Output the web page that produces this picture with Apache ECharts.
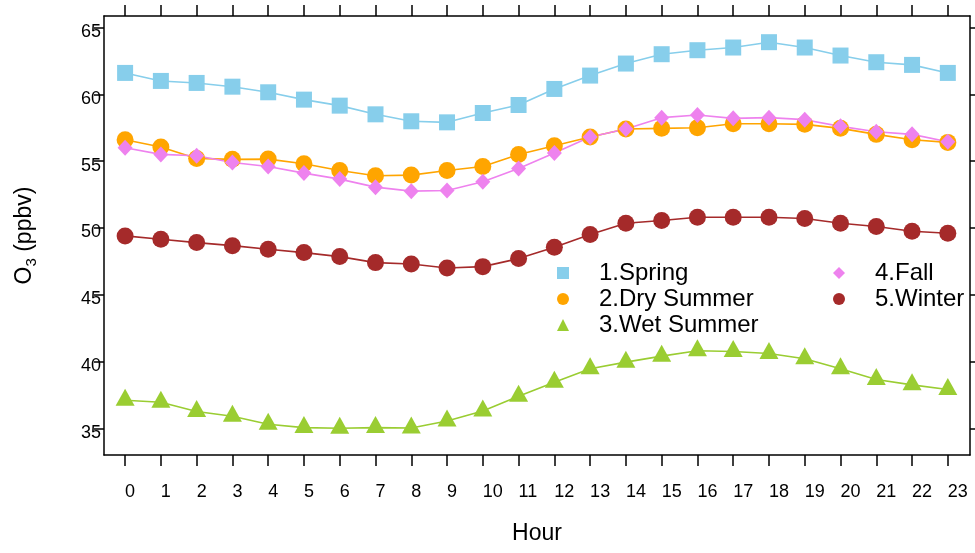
<!DOCTYPE html>
<html>
<head>
<meta charset="utf-8">
<script src="https://cdn.jsdelivr.net/npm/echarts@6/dist/echarts.min.js"></script>
<style>html,body{margin:0;padding:0;background:#fff;}#c{width:975px;height:553px;}</style>
</head>
<body>
<div id="c"></div>
<script>
var hours = [0,1,2,3,4,5,6,7,8,9,10,11,12,13,14,15,16,17,18,19,20,21,22,23];
var yTicks = [35,40,45,50,55,60,65];
var spring = [61.6,61.0,60.85,60.57,60.15,59.6,59.15,58.5,57.98,57.9,58.6,59.2,60.4,61.4,62.3,63.0,63.3,63.5,63.9,63.5,62.9,62.4,62.2,61.6];
var drySummer = [56.6,56.05,55.2,55.13,55.15,54.8,54.3,53.9,53.95,54.3,54.6,55.5,56.15,56.8,57.4,57.45,57.5,57.8,57.8,57.75,57.45,57.0,56.6,56.4];
var wetSummer = [37.1,36.95,36.25,35.9,35.3,35.05,35.0,35.05,35.02,35.55,36.3,37.4,38.45,39.45,39.95,40.4,40.8,40.75,40.6,40.2,39.45,38.65,38.25,37.9];
var fall = [56.0,55.5,55.4,54.9,54.6,54.1,53.65,53.05,52.75,52.8,53.45,54.45,55.6,56.8,57.4,58.25,58.45,58.2,58.25,58.1,57.6,57.2,57.0,56.45];
var winter = [49.4,49.15,48.9,48.67,48.4,48.15,47.85,47.4,47.3,47.0,47.1,47.7,48.55,49.5,50.35,50.55,50.8,50.8,50.8,50.7,50.35,50.1,49.75,49.6];
var names = ['1.Spring','2.Dry Summer','3.Wet Summer','4.Fall','5.Winter'];

function pairs(v){ return hours.map(function(h,i){ return [h, v[i]]; }); }

var chart = echarts.init(document.getElementById('c'), null, {renderer:'canvas'});
var FF = 'Liberation Sans, Arial, sans-serif';
var axisFont = {fontFamily:FF, fontSize:18, color:'#000'};
var lineStyleAxis = {color:'#000', width:1.5};

function mkSeries(name, data, color, symbol, size, extra){
  var s = {
    name: name, type:'line', data: pairs(data),
    symbol: symbol, symbolSize: size,
    showAllSymbol: true,
    lineStyle: {color: color, width: 1.6},
    itemStyle: {color: color},
    emphasis: {disabled: true},
    animation: false,
    z: 2
  };
  if (extra) for (var k in extra) s[k] = extra[k];
  return s;
}

var legendText = {fontFamily:FF, fontSize:24, color:'#000', padding:[0,0,0,25], lineHeight:24};

var option = {
  backgroundColor: '#fff',
  animation: false,
  grid: {left:104, right:5, top:16, bottom:98, containLabel:false},
  xAxis: [{
    type:'value', min:-0.59, max:23.62, position:'bottom',
    name:'Hour', nameLocation:'middle', nameGap:67,
    nameTextStyle:{fontFamily:FF, fontSize:23, color:'#000'},
    axisLine:{show:true, onZero:false, lineStyle:lineStyleAxis},
    axisTick:{show:true, length:11, lineStyle:lineStyleAxis, customValues: hours},
    axisLabel:Object.assign({margin:28, align:'left', customValues: hours}, axisFont),
    splitLine:{show:false}
  },{
    type:'value', min:-0.59, max:23.62, position:'top',
    axisLine:{show:true, onZero:false, lineStyle:lineStyleAxis},
    axisTick:{show:true, length:11, lineStyle:lineStyleAxis, customValues: hours},
    axisLabel:{show:false},
    splitLine:{show:false}
  }],
  yAxis: [{
    type:'value', min:33, max:65.86, position:'left',
    name:'{a|O}{s|3}{a| (ppbv)}', nameLocation:'middle', nameGap:64, nameRotate:90,
    nameTextStyle:{
      fontFamily:FF, color:'#000',
      rich:{
        a:{fontFamily:FF, fontSize:23, color:'#000', lineHeight:30, verticalAlign:'middle'},
        s:{fontFamily:FF, fontSize:15, color:'#000', lineHeight:30, verticalAlign:'middle', padding:[14,0,0,0]}
      }
    },
    axisLine:{show:true, onZero:false, lineStyle:lineStyleAxis},
    axisTick:{show:true, length:10, lineStyle:lineStyleAxis, customValues: yTicks},
    axisLabel:Object.assign({margin:3, customValues: yTicks, verticalAlign:'top', lineHeight:9}, axisFont),
    splitLine:{show:false}
  },{
    type:'value', min:33, max:65.86, position:'right',
    axisLine:{show:true, onZero:false, lineStyle:lineStyleAxis},
    axisTick:{show:true, length:10, lineStyle:lineStyleAxis, customValues: yTicks},
    axisLabel:{show:false},
    splitLine:{show:false}
  }],
  legend: [{
    orient:'vertical', left:557, top:261, padding:0, itemWidth:12, itemHeight:12, itemGap:2,
    selectedMode:false,
    textStyle:legendText,
    data:[{name:names[0], icon:'rect'},{name:names[1], icon:'circle'},{name:names[2], icon:'triangle'}]
  },{
    orient:'vertical', left:833, top:261, padding:0, itemWidth:12, itemHeight:12, itemGap:2,
    selectedMode:false,
    textStyle:legendText,
    data:[{name:names[3], icon:'diamond'},{name:names[4], icon:'circle'}]
  }],
  series: [
    mkSeries(names[0], spring, '#87CEEB', 'rect', 16),
    mkSeries(names[1], drySummer, '#FFA500', 'circle', 17),
    mkSeries(names[2], wetSummer, '#9ACD32', 'triangle', [19,17], {symbolOffset:[0,-3]}),
    mkSeries(names[3], fall, '#EE82EE', 'diamond', [15,16]),
    mkSeries(names[4], winter, '#A52A2A', 'circle', 17)
  ]
};
chart.setOption(option);
</script>
</body>
</html>
